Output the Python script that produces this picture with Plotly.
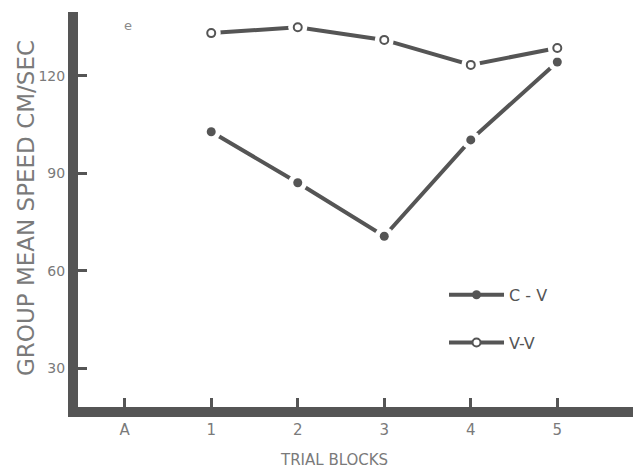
import plotly.graph_objects as go

# ---- data ----
categories = ["A", "1", "2", "3", "4", "5"]
blocks = ["1", "2", "3", "4", "5"]
cv_speed = [102.8, 87.1, 70.6, 100.3, 124.3]
vv_speed = [133.2, 135.0, 131.1, 123.4, 128.6]
y_ticks = [30, 60, 90, 120]
series_names = ["C - V", "V-V"]

INK = "#555555"
TXT = "#7a7a7a"
FONT = "DejaVu Sans"

fig = go.Figure()

def add_series(y, filled, name, group):
    fig.add_trace(go.Scatter(x=blocks, y=y, mode="lines",
                             line=dict(color=INK, width=4),
                             showlegend=False, hoverinfo="skip"))
    fig.add_trace(go.Scatter(x=blocks, y=y, mode="markers",
                             marker=dict(color="white", size=19),
                             showlegend=False, hoverinfo="skip"))
    if filled:
        mk = dict(color=INK, size=9, symbol="circle")
    else:
        mk = dict(color="white", size=8, symbol="circle",
                  line=dict(color=INK, width=2))
    fig.add_trace(go.Scatter(x=blocks, y=y, mode="markers", marker=mk,
                             showlegend=False))
    # legend entry
    fig.add_trace(go.Scatter(x=[None], y=[None], mode="lines+markers",
                             name=name, legendgroup=group,
                             line=dict(color=INK, width=4), marker=mk))

add_series(cv_speed, True, series_names[0], "cv")
add_series(vv_speed, False, series_names[1], "vv")

fig.update_layout(
    width=641, height=470,
    margin=dict(l=70, r=0, t=4, b=71),
    paper_bgcolor="white", plot_bgcolor="white",
    font=dict(family=FONT, color=TXT, size=15),
    legend=dict(x=0.641, y=0.327, xanchor="left", yanchor="top",
                bgcolor="rgba(0,0,0,0)", tracegroupgap=24,
                font=dict(size=16, color="#555555"), itemwidth=55),
    xaxis=dict(type="category", categoryorder="array", categoryarray=categories,
               tickmode="array", tickvals=categories, ticktext=categories,
               range=[-0.54, 6.06], showline=True, linewidth=10, linecolor=INK,
               ticks="inside", ticklen=9, tickwidth=2.5, tickcolor=INK,
               showgrid=False, zeroline=False,
               tickfont=dict(size=15, color=TXT)),
    yaxis=dict(range=[18.0, 139.7], tickmode="array", tickvals=y_ticks,
               showline=True, linewidth=10, linecolor=INK,
               ticks="inside", ticklen=9, tickwidth=3, tickcolor=INK,
               showgrid=False, zeroline=False,
               tickfont=dict(size=14, color=TXT)),
)

fig.add_annotation(text="GROUP MEAN SPEED CM/SEC", xref="paper", yref="paper",
                   x=-0.091, y=0.504, textangle=-90, showarrow=False,
                   font=dict(size=23, color=TXT, family=FONT),
                   xanchor="center", yanchor="middle")
fig.add_annotation(text="TRIAL BLOCKS", xref="paper", yref="paper",
                   x=0.448, y=-0.135, showarrow=False,
                   font=dict(size=15, color=TXT, family=FONT),
                   xanchor="center", yanchor="middle")
fig.add_annotation(text="e", xref="paper", yref="paper",
                   x=0.0876, y=0.965, showarrow=False,
                   font=dict(size=13, color="#8a8a8a", family=FONT),
                   xanchor="center", yanchor="middle")

fig.write_html("out.html")
